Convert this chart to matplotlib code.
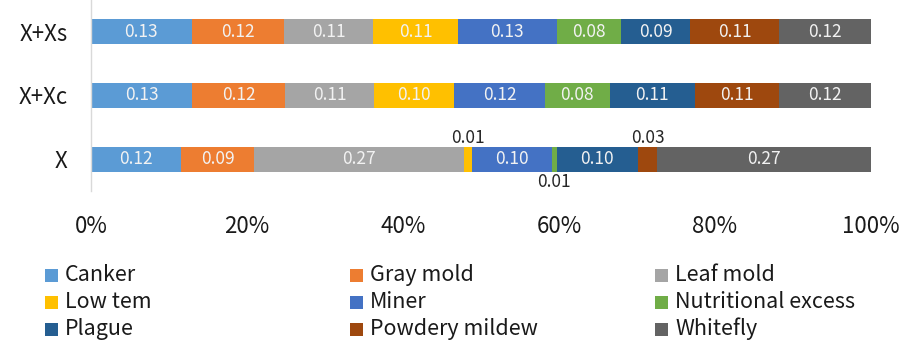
import matplotlib
matplotlib.use("Agg")
import matplotlib.pyplot as plt
from matplotlib.patches import Rectangle
import numpy as np

plt.rcParams["font.family"] = ["Noto Sans CJK KR", "DejaVu Sans"]

# Groups, bottom to top
categories = ["X", "X+Xc", "X+Xs"]

# Share of each disease in each group (order: X, X+Xc, X+Xs)
canker = [0.116, 0.130, 0.129]
gray_mold = [0.093, 0.119, 0.119]
leaf_mold = [0.269, 0.114, 0.114]
low_tem = [0.010, 0.103, 0.108]
miner = [0.103, 0.116, 0.127]
nutritional_excess = [0.006, 0.083, 0.083]
plague = [0.104, 0.109, 0.088]
powdery_mildew = [0.025, 0.108, 0.114]
whitefly = [0.274, 0.118, 0.118]

series_names = ["Canker", "Gray mold", "Leaf mold", "Low tem", "Miner",
                "Nutritional excess", "Plague", "Powdery mildew", "Whitefly"]
series_values = [canker, gray_mold, leaf_mold, low_tem, miner,
                 nutritional_excess, plague, powdery_mildew, whitefly]
colors = ["#5B9BD5", "#ED7D31", "#A5A5A5", "#FFC000", "#4472C4",
          "#70AD47", "#255E91", "#9E480E", "#636363"]

x_ticks = [0, 0.2, 0.4, 0.6, 0.8, 1.0]
x_ticklabels = ["0%", "20%", "40%", "60%", "80%", "100%"]

W, H = 903, 350
fig = plt.figure(figsize=(W / 100, H / 100), dpi=100)
ax = fig.add_axes([91 / W, 1 - 191 / H, 780 / W, 191 / H])

vals = np.array(series_values, dtype=float)
totals = vals.sum(axis=0)
shares = vals / totals
ypos = np.arange(len(categories))
bar_h = 0.39

left = np.zeros(len(categories))
small_side = {}  # alternate outside labels above / below for thin segments
for name, raw, share, color in zip(series_names, vals, shares, colors):
    bars = ax.barh(ypos, share, left=left, height=bar_h, color=color,
                   edgecolor="none")
    for i, (b, v) in enumerate(zip(bars, raw)):
        cx = b.get_x() + b.get_width() / 2
        label = f"{v:.2f}"
        if b.get_width() >= 0.05:
            ax.text(cx, ypos[i], label, ha="center", va="center",
                    fontsize=12.5, color="#F2F2F2")
        else:
            k = small_side.get(i, 0)
            small_side[i] = k + 1
            if k % 2 == 0:
                ax.text(cx, ypos[i] + bar_h / 2 - 0.01, label, ha="center",
                        va="bottom", fontsize=12.5, color="#262626")
            else:
                ax.text(cx, ypos[i] - bar_h / 2 - 0.02, label, ha="center",
                        va="top", fontsize=12.5, color="#262626")
    left += share

ax.set_xlim(0, 1)
ax.set_ylim(-0.5, len(categories) - 0.5)
ax.set_yticks(ypos)
ax.set_yticklabels(categories, fontsize=16, color="#1A1A1A")
ax.set_xticks(x_ticks)
ax.set_xticklabels(x_ticklabels, fontsize=16, color="#1A1A1A")
ax.tick_params(axis="both", length=0)
ax.tick_params(axis="x", pad=17)
ax.tick_params(axis="y", pad=17)
for side in ["top", "right", "bottom"]:
    ax.spines[side].set_visible(False)
ax.spines["left"].set_color("#D9D9D9")
ax.spines["left"].set_linewidth(1.0)

# Legend laid out in a fixed 3x3 grid, row by row
col_x = [45, 350, 655]
row_y = [275, 302, 329]
sq = 13
for idx, (name, color) in enumerate(zip(series_names, colors)):
    r, c = divmod(idx, 3)
    x0, yc = col_x[c], row_y[r]
    fig.add_artist(Rectangle((x0 / W, 1 - (yc + sq / 2) / H), sq / W, sq / H,
                             transform=fig.transFigure, facecolor=color,
                             edgecolor="none"))
    fig.text((x0 + 20) / W, 1 - yc / H, name, ha="left", va="center",
             fontsize=15.5, color="#1A1A1A")

fig.savefig("out.png", dpi=100)
